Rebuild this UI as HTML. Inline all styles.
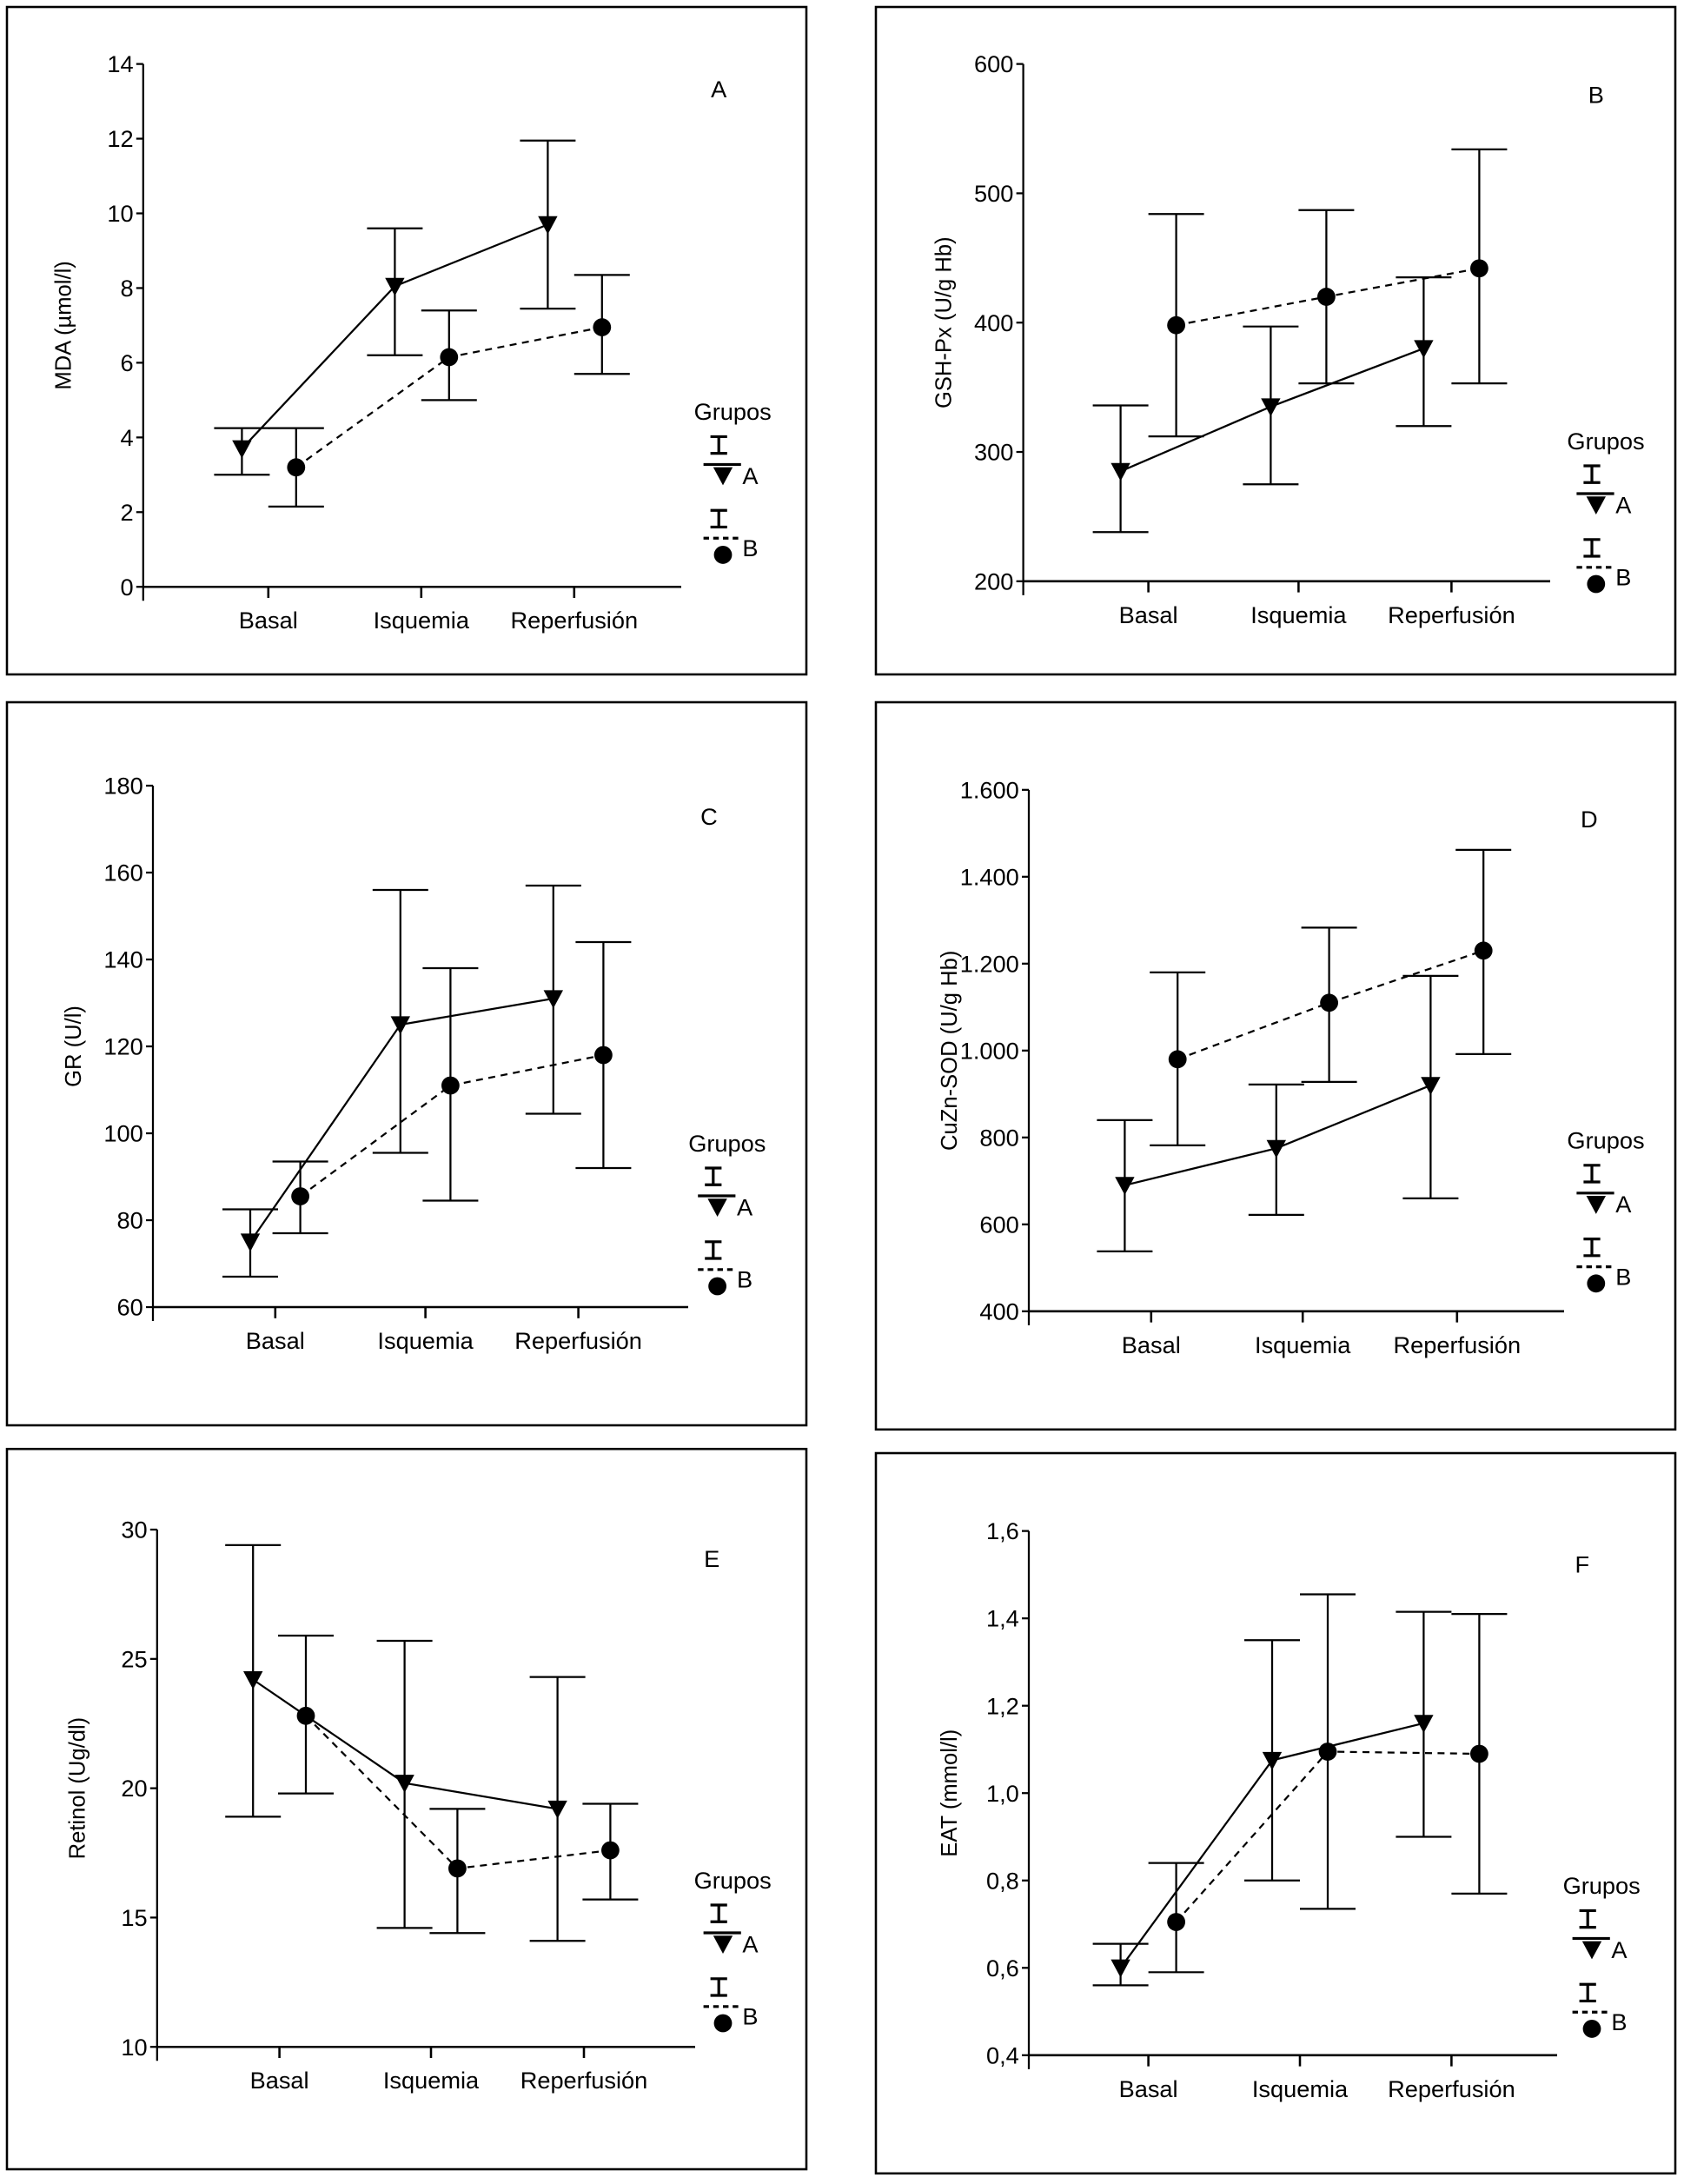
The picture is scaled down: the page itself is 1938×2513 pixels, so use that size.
<!DOCTYPE html>
<html><head><meta charset="utf-8"><style>
html,body{margin:0;padding:0;background:#fff;}
svg{display:block;}
text{font-family:"Liberation Sans Narrow","Liberation Sans",sans-serif;fill:#000;}
</style></head><body>
<svg id="fig" xmlns="http://www.w3.org/2000/svg" width="1938" height="2513" viewBox="0 0 1211.25 1570.6"></svg>
<script>
const categories = ["Basal","Isquemia","Reperfusión"];
// Panel A: MDA
const aTicks = [0,2,4,6,8,10,12,14];
const aTickLabels = ["0","2","4","6","8","10","12","14"];
const aMeanA = [3.7,8.05,9.7], aLoA = [3.0,6.2,7.45], aHiA = [4.25,9.6,11.95];
const aMeanB = [3.2,6.15,6.95], aLoB = [2.15,5.0,5.7], aHiB = [4.25,7.4,8.35];
// Panel B: GSH-Px
const bTicks = [200,300,400,500,600];
const bTickLabels = ["200","300","400","500","600"];
const bMeanA = [285,335,380], bLoA = [238,275,320], bHiA = [336,397,435];
const bMeanB = [398,420,442], bLoB = [312,353,353], bHiB = [484,487,534];
// Panel C: GR
const cTicks = [60,80,100,120,140,160,180];
const cTickLabels = ["60","80","100","120","140","160","180"];
const cMeanA = [75,125,131], cLoA = [67,95.5,104.5], cHiA = [82.5,156,157];
const cMeanB = [85.5,111,118], cLoB = [77,84.5,92], cHiB = [93.5,138,144];
// Panel D: CuZn-SOD
const dTicks = [400,600,800,1000,1200,1400,1600];
const dTickLabels = ["400","600","800","1.000","1.200","1.400","1.600"];
const dMeanA = [690,775,920], dLoA = [538,622,660], dHiA = [840,922,1172];
const dMeanB = [980,1110,1230], dLoB = [782,928,992], dHiB = [1180,1283,1462];
// Panel E: Retinol
const eTicks = [10,15,20,25,30];
const eTickLabels = ["10","15","20","25","30"];
const eMeanA = [24.2,20.2,19.2], eLoA = [18.9,14.6,14.1], eHiA = [29.4,25.7,24.3];
const eMeanB = [22.8,16.9,17.6], eLoB = [19.8,14.4,15.7], eHiB = [25.9,19.2,19.4];
// Panel F: EAT
const fTicks = [0.4,0.6,0.8,1.0,1.2,1.4,1.6];
const fTickLabels = ["0,4","0,6","0,8","1,0","1,2","1,4","1,6"];
const fMeanA = [0.6,1.075,1.16], fLoA = [0.56,0.80,0.90], fHiA = [0.655,1.35,1.415];
const fMeanB = [0.705,1.095,1.09], fLoB = [0.59,0.735,0.77], fHiB = [0.84,1.455,1.41];

const NS="http://www.w3.org/2000/svg";
const svg=document.getElementById('fig');
function mk(tag,attrs,parent){const e=document.createElementNS(NS,tag);for(const k in attrs)e.setAttribute(k,attrs[k]);(parent||svg).appendChild(e);return e;}

const panels=[
 {id:'a',letter:'A',ylabel:'MDA (µmol/l)',box:[5,5,575,480],ax:103,y0:422,y1:46,xEnd:490,cat:[193,303,413],off:[-19,20],ticks:aTicks,tl:aTickLabels,mA:aMeanA,lA:aLoA,hA:aHiA,mB:aMeanB,lB:aLoB,hB:aHiB,lx:[517,70],g:[527,302]},
 {id:'b',letter:'B',ylabel:'GSH-Px (U/g Hb)',box:[630,5,575,480],ax:736,y0:418,y1:46,xEnd:1115,cat:[826,934,1044],off:[-20,20],ticks:bTicks,tl:bTickLabels,mA:bMeanA,lA:bLoA,hA:bHiA,mB:bMeanB,lB:bLoB,hB:bHiB,lx:[1148,74],g:[1155,323]},
 {id:'c',letter:'C',ylabel:'GR (U/l)',box:[5,505,575,520],ax:110,y0:940,y1:565,xEnd:495,cat:[198,306,416],off:[-18,18],ticks:cTicks,tl:cTickLabels,mA:cMeanA,lA:cLoA,hA:cHiA,mB:cMeanB,lB:cLoB,hB:cHiB,lx:[510,593],g:[523,828]},
 {id:'d',letter:'D',ylabel:'CuZn-SOD (U/g Hb)',box:[630,505,575,523],ax:740,y0:943,y1:568,xEnd:1125,cat:[828,937,1048],off:[-19,19],ticks:dTicks,tl:dTickLabels,mA:dMeanA,lA:dLoA,hA:dHiA,mB:dMeanB,lB:dLoB,hB:dHiB,lx:[1143,595],g:[1155,826]},
 {id:'e',letter:'E',ylabel:'Retinol (Ug/dl)',box:[5,1042,575,518],ax:113,y0:1472,y1:1100,xEnd:500,cat:[201,310,420],off:[-19,19],ticks:eTicks,tl:eTickLabels,mA:eMeanA,lA:eLoA,hA:eHiA,mB:eMeanB,lB:eLoB,hB:eHiB,lx:[512,1127],g:[527,1358]},
 {id:'f',letter:'F',ylabel:'EAT (mmol/l)',box:[630,1045,575,518],ax:740,y0:1478,y1:1101,xEnd:1120,cat:[826,935,1044],off:[-20,20],ticks:fTicks,tl:fTickLabels,mA:fMeanA,lA:fLoA,hA:fHiA,mB:fMeanB,lB:fLoB,hB:fHiB,lx:[1138,1131],g:[1152,1362]}
];

function tri(g,x,y,name){const p=mk('path',{d:`M${x-7},${y-6} L${x+7},${y-6} L${x},${y+7} Z`,fill:'#000'},g);

return p;}
function dot(g,x,y,name){const c=mk('circle',{cx:x,cy:y,r:6.5,fill:'#000'},g);

return c;}
function errbar(g,x,lo,hi,name){const e=mk('path',{d:`M${x-20},${hi} H${x+20} M${x},${hi} V${lo} M${x-20},${lo} H${x+20}`,stroke:'#000','stroke-width':1.4,fill:'none'},g);

}

panels.forEach(P=>{
 const g=mk('g',{});
 
 
 const b=mk('rect',{x:P.box[0],y:P.box[1],width:P.box[2],height:P.box[3],fill:'none',stroke:'#000','stroke-width':1.6},g);
 
 
 const tmin=P.ticks[0],tmax=P.ticks[P.ticks.length-1];
 const Y=v=>P.y0+(v-tmin)/(tmax-tmin)*(P.y1-P.y0);
 // axes
 const ya=mk('line',{x1:P.ax,y1:P.y1,x2:P.ax,y2:P.y0+10,stroke:'#000','stroke-width':1.4},g);
 
 
 const xa=mk('line',{x1:P.ax,y1:P.y0,x2:P.xEnd,y2:P.y0,stroke:'#000','stroke-width':1.6},g);
 
 
 P.ticks.forEach((t,i)=>{
  mk('line',{x1:P.ax-5,y1:Y(t),x2:P.ax,y2:Y(t),stroke:'#000','stroke-width':1.4},g);
  const tx=mk('text',{x:P.ax-7,y:Y(t)+6,'text-anchor':'end','font-size':17},g);
  tx.textContent=P.tl[i];
  
  
 });
 categories.forEach((c,i)=>{
  mk('line',{x1:P.cat[i],y1:P.y0,x2:P.cat[i],y2:P.y0+8,stroke:'#000','stroke-width':1.6},g);
  const tx=mk('text',{x:P.cat[i],y:P.y0+30,'text-anchor':'middle','font-size':17},g);
  tx.textContent=c;
  
  
 });
 const yl=mk('text',{x:0,y:0,'text-anchor':'middle','font-size':16,transform:`translate(${P.ax-52},${(P.y0+P.y1)/2}) rotate(-90)`},g);
 yl.textContent=P.ylabel;
 
 
 const pl=mk('text',{x:P.lx[0],y:P.lx[1],'text-anchor':'middle','font-size':17},g);
 pl.textContent=P.letter;
 
 
 const xsA=P.cat.map(c=>c+P.off[0]), xsB=P.cat.map(c=>c+P.off[1]);
 // lines
 const la=mk('polyline',{points:xsA.map((x,i)=>x+','+Y(P.mA[i])).join(' '),fill:'none',stroke:'#000','stroke-width':1.4},g);
 
 
 const lb=mk('polyline',{points:xsB.map((x,i)=>x+','+Y(P.mB[i])).join(' '),fill:'none',stroke:'#000','stroke-width':1.4,'stroke-dasharray':'5,4'},g);
 
 
 categories.forEach((c,i)=>{
  errbar(g,xsA[i],Y(P.lA[i]),Y(P.hA[i]),'error-bar-a');
  errbar(g,xsB[i],Y(P.lB[i]),Y(P.hB[i]),'error-bar-b');
  tri(g,xsA[i],Y(P.mA[i]),'point-a');
  dot(g,xsB[i],Y(P.mB[i]),'point-b');
 });
 // legend
 const L=mk('g',{},g);
 
 
 const gx=P.g[0],gy=P.g[1];
 const gt=mk('text',{x:gx,y:gy,'text-anchor':'middle','font-size':17},L);
 gt.textContent='Grupos';
 
 
 const ix=gx-10;
 mk('path',{d:`M${ix-6},${gy+12} H${ix+6} M${ix},${gy+12} V${gy+24} M${ix-6},${gy+24} H${ix+6}`,stroke:'#000','stroke-width':2,fill:'none'},L);
 mk('line',{x1:gx-21,y1:gy+32,x2:gx+6,y2:gy+32,stroke:'#000','stroke-width':2},L);
 tri(L,gx-7,gy+40,'legend-marker-a');
 const ta=mk('text',{x:gx+7,y:gy+46,'font-size':17},L);ta.textContent='A';
 
 
 mk('path',{d:`M${ix-6},${gy+65} H${ix+6} M${ix},${gy+65} V${gy+77} M${ix-6},${gy+77} H${ix+6}`,stroke:'#000','stroke-width':2,fill:'none'},L);
 mk('line',{x1:gx-21,y1:gy+85,x2:gx+4,y2:gy+85,stroke:'#000','stroke-width':2,'stroke-dasharray':'4,3'},L);
 dot(L,gx-7,gy+97,'legend-marker-b');
 const tb=mk('text',{x:gx+7,y:gy+98,'font-size':17},L);tb.textContent='B';
 
 
});
</script>
</body></html>
